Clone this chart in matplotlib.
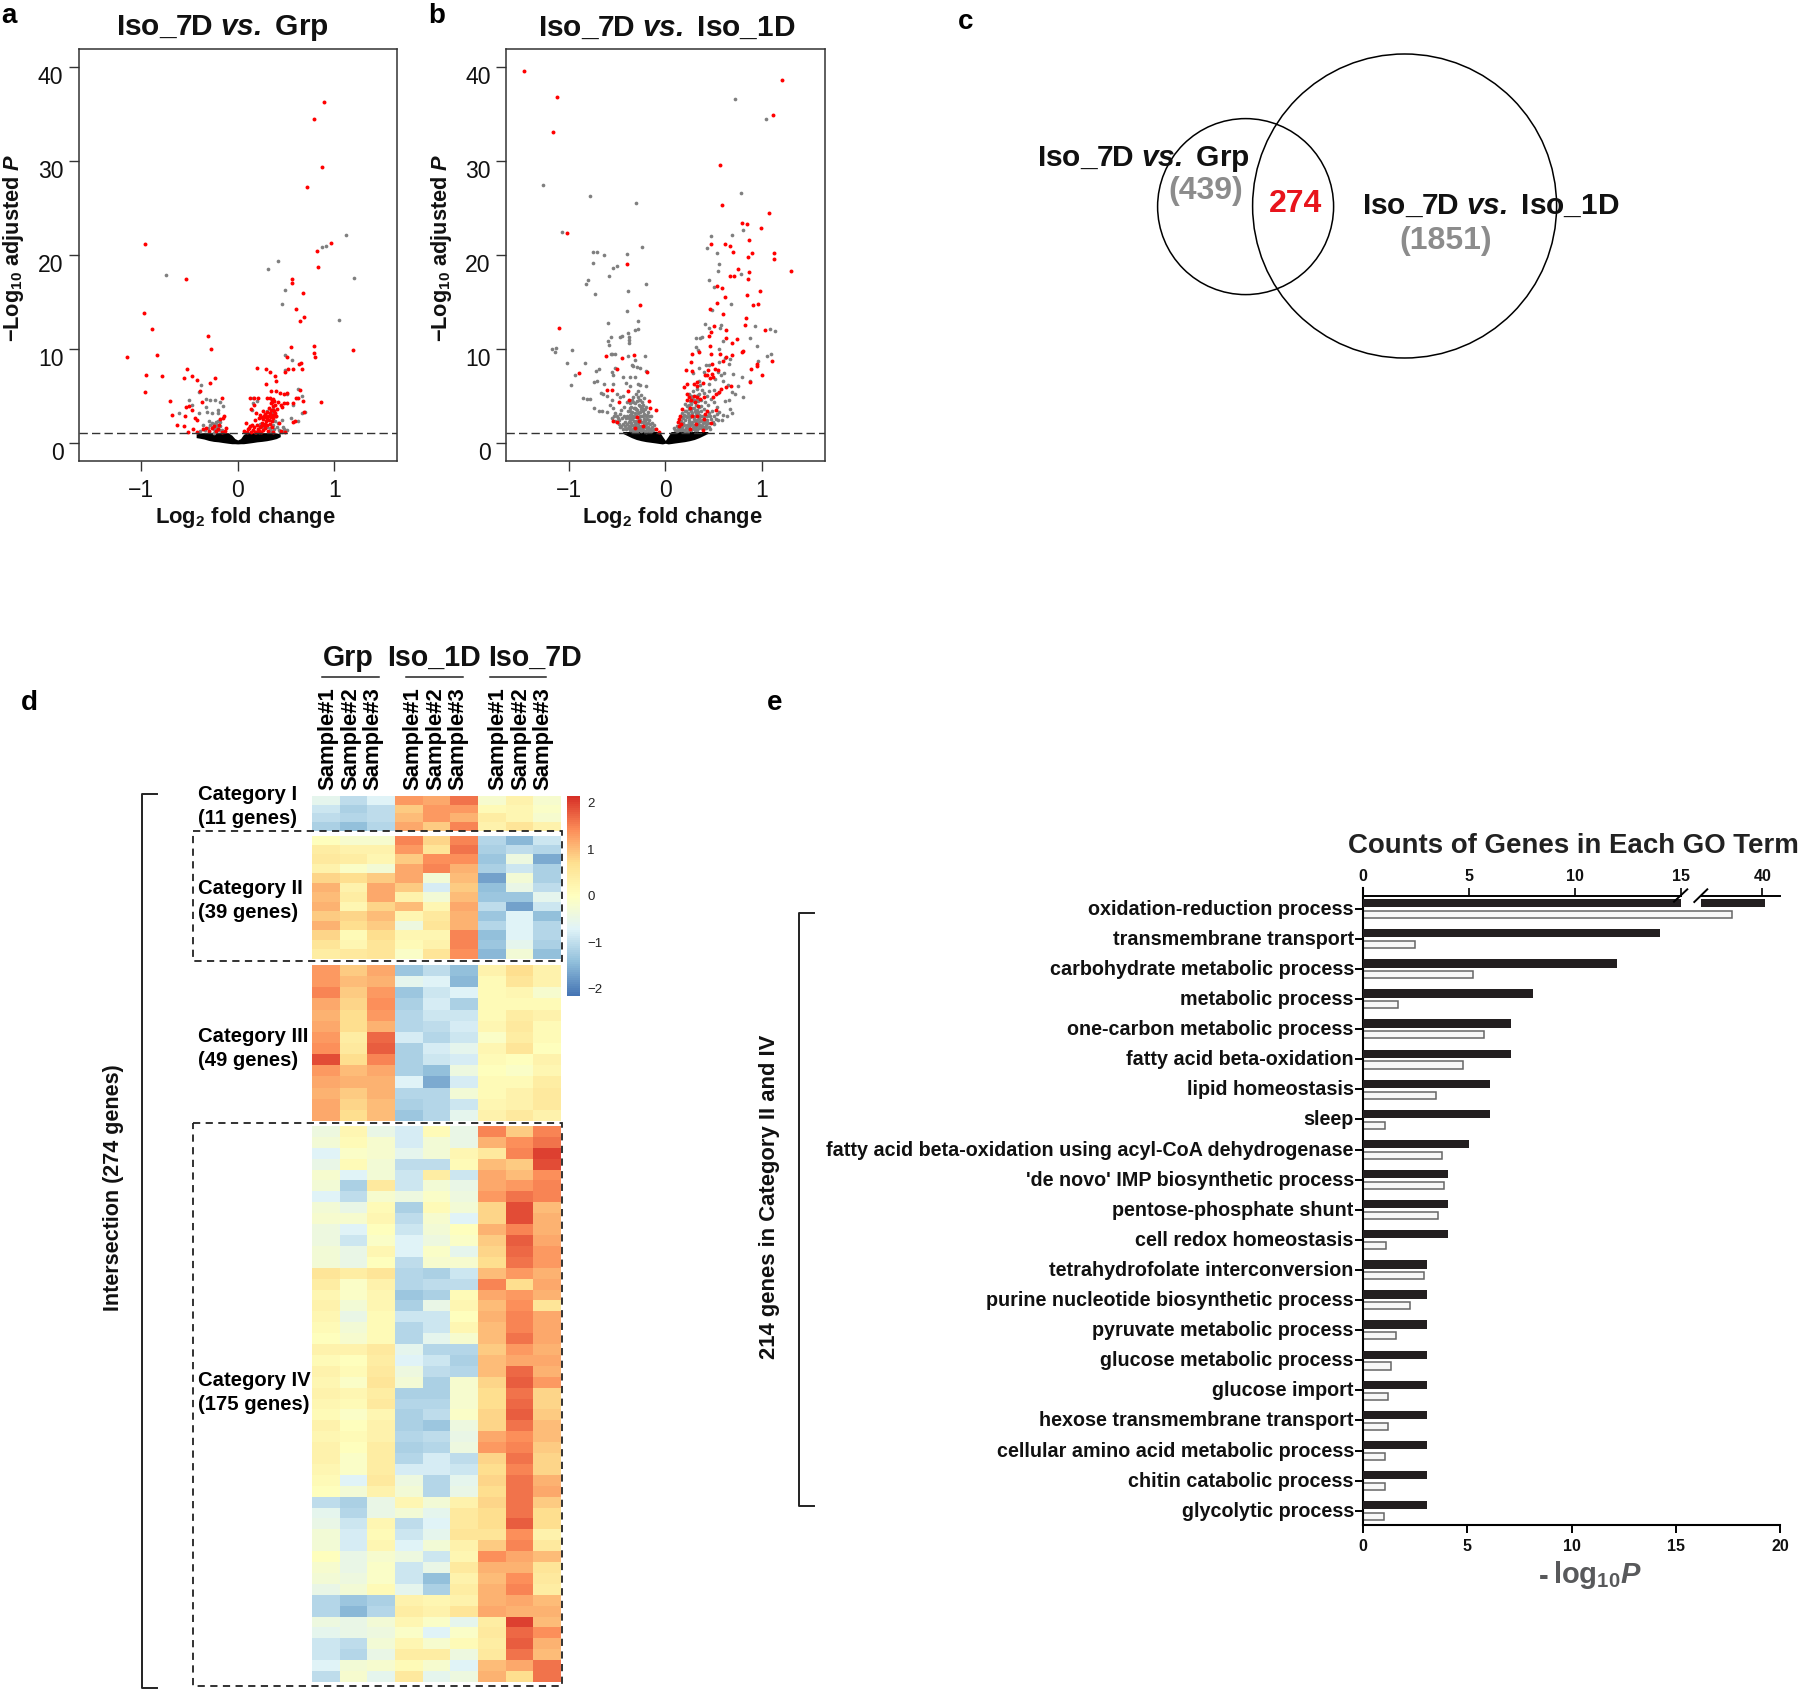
import numpy as np
import matplotlib
matplotlib.use('Agg')
import matplotlib.pyplot as plt
from matplotlib.colors import LinearSegmentedColormap
from matplotlib.patches import Circle, Rectangle
from matplotlib.transforms import ScaledTranslation

plt.rcParams['font.family'] = ['Liberation Sans', 'DejaVu Sans']
plt.rcParams['mathtext.fontset'] = 'custom'
plt.rcParams['mathtext.rm'] = 'Liberation Sans'
plt.rcParams['mathtext.bf'] = 'Liberation Sans:bold'
plt.rcParams['mathtext.it'] = 'Liberation Sans:italic'
plt.rcParams['mathtext.bfit'] = 'Liberation Sans:italic:bold'

W, H = 1800, 1689

# ---- volcano a ----
a_red = [(.893,36.3),(.79,34.4),(.872,29.3),(.72,27.2),(.962,21.3),(.824,20.4),(.828,18.7),(.566,17.4),(.566,17.0),
         (.676,15.9),(.607,14.2),(.686,13.4),(.641,13.0),(.786,10.3),(.555,10.2),(.79,9.6),(.8,9.1),(1.19,9.9),
         (.514,9.1),(.659,8.5),(.634,8.4),(.669,7.9),(.524,7.85),(.57,7.8),(.49,7.5),(.2,8.0),(.29,7.8),(.338,7.5),
         (.39,7.1),(.397,6.6),(.293,6.3),(.348,5.5),(.393,5.5),(.438,5.35),(.48,5.2),(.507,5.35),(.645,5.6),(.862,4.3),
         (.68,4.4),(.576,4.2),(.507,4.2),(.628,4.8),(.604,4.8),(.686,3.3),(.576,2.2),(.597,2.35),
         (-.959,21.1),(-.538,17.4),(-.972,13.8),(-.883,12.1),(-.31,11.4),(-.276,10.0),(-.831,9.3),(-1.148,9.1),
         (-.948,7.2),(-.786,7.1),(-.528,7.8),(-.559,6.9),(-.476,7.1),(-.417,6.7),(-.234,6.9),(-.286,6.4),(-.955,5.4),
         (-.39,5.5),(-.7,4.4),(-.372,4.3),(-.159,4.8),(-.534,3.85),(-.5,3.9),(-.469,3.5),(-.679,3.0),(-.548,2.8),
         (-.441,2.6),(-.424,2.4),(-.631,1.9),(-.559,1.75),(-.51,1.1),(-.465,1.45),(-.15,2.6),(-.18,2.5),(-.14,2.9),
         (-.2,1.5),(-.27,1.6),(-.3,1.3),(-.13,1.3),(-.36,1.5),(-.42,1.2),(-.24,1.8),
         (.13,4.8),(.17,4.8),(.21,4.8),(.17,4.0),(.14,3.6),(.19,3.2),(.3,4.8),(.33,4.8),(.35,4.6),(.37,4.7),(.38,4.4),
         (.34,4.2),(.36,3.9),(.39,4.0),(.42,4.3),(.45,4.0),(.48,4.2),(.36,3.5),(.38,3.4),(.33,3.2),(.3,3.3),(.41,3.6),
         (.27,2.9),(.31,2.9),(.34,2.7),(.36,3.0),(.26,2.5),(.29,2.3),(.32,2.4),(.25,2.1),(.22,2.6),(.18,2.4),(.2,1.9),
         (.15,1.9),(.09,2.1),(.12,1.6),(.16,1.4),(.21,1.5),(.24,1.8),(.28,1.6),(.31,1.3),(.35,1.7),(.07,1.3),(.1,1.2),
         (.14,1.2),(.19,1.1),(.24,1.2),(.37,1.1),(.45,1.3),(.49,1.2),(.23,3.0),(.28,2.0),(.4,2.8),(.43,2.1),(.46,3.8),
         (.11,1.45),(.13,1.8),(.17,1.7),(.18,1.2),(.22,1.3),(.23,1.65),(.26,1.35),(.27,1.9),(.3,1.85),(.3,2.6),(.33,2.05),
         (.34,3.5),(.35,2.3),(.37,2.6),(.39,3.2),(.28,3.1),(.24,2.7),(.26,3.4),(.32,3.7),(.35,4.3),(.29,2.75),(.33,2.9),
         (-.12,1.6),(-.16,1.2),(-.19,1.9),(-.22,1.25),(-.33,1.6)]
a_grey = [(-.745,17.8),(1.117,22.1),(.876,20.8),(.91,20.9),(.31,18.5),(.414,19.3),(1.207,17.5),(.49,16.3),(.462,14.8),
          (1.048,13.1),(.49,9.3),(.566,8.8),(.49,7.7),(-.38,6.1),(-.4,5.45),(-.507,4.5),(-.328,4.7),(-.286,4.5),
          (-.234,4.5),(-.183,4.3),(-.148,3.9),(-.476,4.0),(-.607,3.15),(-.4,3.15),(-.32,3.3),(-.27,3.15),(-.207,3.5),
          (-.2,3.15),(-.33,3.8),(-.295,2.3),(-.27,2.15),(-.224,2.25),(-.217,1.9),(-.183,2.25),(-.36,1.9),(-.39,1.3),
          (-.34,1.4),(-.165,1.4),(-.25,1.0),(-.23,1.3),(.162,4.2),(.152,3.5),(.197,4.4),(.3,3.4),(.35,3.15),(.4,2.8),
          (.455,2.4),(.472,1.7),(.507,1.4),(.3,1.7),(.23,2.0),(.162,4.8),(.514,5.2),(.627,5.7),(.662,5.0),(.697,3.3),
          (.662,3.2),(.555,2.6),(.62,2.35),(.576,4.0),(.366,3.55),(.42,2.1),(.48,1.5),(.44,1.2),(.34,1.3),
          (-.26,1.7),(-.21,1.6),(-.2,2.35),(-.25,1.45),(-.19,1.35),(-.29,1.9),(-.31,1.55),(-.24,2.05),(-.18,1.75),
          (.38,1.45),(.41,1.65),(.43,1.35),(.46,1.2),(.33,1.55),(.36,1.9),(.39,2.3),(.26,1.55),(.22,1.2)]
a_env_x = [-.43,-.40,-.35,-.30,-.25,-.20,-.15,-.10,-.06,-.03,0,.03,.06,.10,.15,.20,.25,.30,.35,.40,.44]
a_env_low = [.55,.5,.4,.25,.15,.1,.02,-.05,-.1,-.1,-.12,-.1,-.1,-.05,.02,.1,.15,.22,.32,.45,.65]
a_env_high = [.95,1.05,1.08,1.08,1.08,1.08,1.08,1.08,.8,.45,.3,.45,.9,1.08,1.08,1.08,1.08,1.08,1.08,1.05,.95]

# ---- volcano b ----
b_red = [(-1.466,39.6),(-1.117,36.8),(-1.166,33.1),(-1.02,22.3),(-1.103,12.2),(-.393,19.0),(-.259,14.7),(-.617,9.2),
         (-.445,9.05),(-.324,9.3),(-.89,7.4),(-.503,7.8),(-.193,7.5),(-.6,5.6),(-.548,5.6),(-.39,5.5),(-.372,4.5),
         (-.479,4.3),(-.166,4.4),(-.1,3.5),(-.159,3.7),(-.545,2.3),(-.497,2.2),(-.234,1.75),(-.314,1.6),(-.097,1.43),
         (-.062,1.17),(-.29,2.7),(-.27,2.3),
         (1.203,38.6),(1.114,34.9),(.562,29.6),(.586,25.3),(1.069,24.4),(.79,23.4),(.841,23.3),(.99,22.9),(.862,21.6),
         (.472,21.2),(.617,21.1),(.672,20.9),(.697,20.3),(.893,20.2),(.852,19.8),(1.124,20.2),(1.128,19.6),(1.3,18.3),
         (.755,18.5),(.866,18.2),(.859,17.4),(.666,17.7),(.707,17.7),(.531,16.7),(.586,16.5),(.979,16.1),(.841,15.75),
         (.621,15.5),(.534,14.9),(.962,14.8),(.907,14.65),(.466,14.25),(.6,13.7),(.834,13.3),(.503,12.4),(.828,12.5),
         (.631,12.05),(1.03,12.0),(.476,11.75),(.452,11.4),(.628,11.2),(.738,11.05),(.69,10.6),(.466,10.3),(.793,9.7),
         (.807,9.75),(.348,9.7),(.276,9.4),(.472,9.45),(.562,9.4),(.69,9.3),(.628,9.1),(.6,8.7),(.269,8.6),(.486,8.35),
         (1.107,8.75),(.948,8.4),(.945,8.2),(.886,7.9),(.997,7.2),(.21,7.77),(.272,7.65),(.445,7.7),(.514,7.9),(.541,7.7),
         (.486,7.35),(.428,7.2),(.497,7.0),(.462,6.85),(.41,7.2),(.876,6.5),(.676,6.0),(.628,5.9),(.324,6.5),(.393,6.4),
         (.324,6.0),(.22,6.25),(.58,5.7),(.56,5.4),(.497,4.85),(.52,5.2),(.3,6.3),(.19,5.9),
         (.22,5.2),(.24,4.9),(.22,4.6),(.3,5.0),(.33,4.9),(.27,4.6),(.31,4.3),(.36,4.7),(.4,4.9),(.34,3.9),(.26,3.7),
         (.17,3.6),(.15,2.9),(.14,2.5),(.13,2.2),(.16,2.0),(.14,1.8),(.28,2.8),(.33,2.9),(.4,2.5),(.41,3.1),(.52,3.5),
         (.47,2.1),(.32,2.0),(.26,1.5),(.39,1.4),(.43,3.4)]
b_grey = [(-1.27,27.4),(-.78,26.3),(-.3,25.5),(-1.07,22.4),(-.24,20.8),(-.75,20.3),(-.71,20.3),(-.63,20.0),(-.4,20.1),
          (-.75,19.1),(-.545,18.6),(-.5,18.8),(-.585,17.7),(-.8,17.3),(-.82,16.9),(-.2,16.9),(-.385,16.2),(-.73,15.8),
          (-.395,14.0),(-.28,13.0),(-.595,12.7),(-.28,12.1),(-.31,12.0),(-.39,11.7),(-.565,11.3),(-.47,11.3),(-.45,11.4),
          (-.375,11.3),(-.375,10.9),(-.38,10.6),(-.595,10.8),(-.58,10.4),(-1.17,10.0),(-1.13,10.1),(-1.14,9.7),(-.97,9.9),
          (-.565,9.5),(-.55,9.5),(-.52,9.4),(-.21,9.2),(-.39,9.2),(-.31,8.8),(-.345,8.3),(-.33,8.2),(-.29,8.1),(-.26,8.0),
          (-1.02,8.5),(-.83,8.5),(-.52,8.0),(-.55,7.5),(-.54,7.2),(-.72,7.6),(-.69,7.8),(-.2,7.6),(-.44,7.0),(-.36,7.0),
          (-.31,7.0),(-.93,7.2),(-.74,6.5),(-.71,6.6),(-.98,6.2),(-.63,6.3),(-.54,6.3),(-.41,6.4),(-.37,6.0),(-.26,6.1),
          (-.28,6.3),(-.2,6.0),(-.85,4.8),(-.81,4.7),(-.78,4.7),(-.74,3.7),(-.69,3.4),(-.65,3.4),(-.6,5.0),(-.64,5.2),
          (-.67,5.3),(-.5,5.2),(-.47,4.9),(-.44,5.0),(-.55,4.5),(-.57,4.0),(-.54,3.7),(-.6,3.3),(-.52,3.2),(-.47,3.1),
          (-.5,2.8),(-.55,2.6),(-.48,2.4),(-.43,3.8),(-.4,4.3),(-.37,3.7),(-.35,3.1),(-.33,4.9),(-.3,5.2),(-.28,5.5),
          (-.27,4.6),(-.25,5.1),(-.24,4.3),(-.22,4.8),(-.32,2.7),(-.3,3.6),(-.29,2.2),(-.26,3.9),(-.25,2.9),(-.23,3.4),
          (-.22,2.5),(-.2,3.8),(-.2,2.8),(-.18,3.3),(-.17,2.4),(-.15,2.8),(-.14,2.1),(-.12,1.9),(-.11,1.5),(-.35,2.1),
          (-.4,2.9),(-.42,2.2),(-.38,1.8),(-.33,1.5),(-.28,1.4),(-.25,1.8),(-.21,1.3),(-.18,1.7),(-.15,1.3),(-.44,1.5),
          (-.47,1.7),(-.36,3.4),(-.31,4.2),(-.28,3.2),(-.34,2.5),(-.3,1.8),(-.26,2.4),(-.22,1.9),
          (.72,36.6),(1.04,34.4),(.78,26.6),(.69,22.1),(.47,22.0),(.8,22.6),(.43,20.7),(.53,20.2),(.56,19.0),(.54,18.3),
          (.78,18.0),(.45,17.3),(.5,16.6),(.68,14.8),(.48,14.1),(.41,12.6),(.45,12.2),(.58,12.5),(.57,12.2),(.93,12.4),
          (1.08,12.1),(1.13,11.9),(.88,11.2),(.32,11.2),(.36,11.2),(.38,11.3),(.6,10.8),(.95,10.3),(.32,10.2),(.56,10.0),
          (.34,9.9),(1.09,9.4),(1.05,9.2),(.62,9.0),(.67,8.9),(.96,8.7),(.56,8.6),(.66,8.4),(.45,8.3),(.42,8.3),(.35,8.0),
          (.29,7.4),(.4,7.5),(.55,7.5),(.58,7.2),(.61,7.4),(.7,7.3),(.79,7.0),(.88,6.6),(.51,6.8),(.6,6.6),(.45,6.3),
          (.35,6.6),(.65,6.2),(.75,6.0),(.69,5.4),(.72,5.2),(.8,4.9),(.66,4.6),(.36,6.1),(.33,5.7),(.38,5.6),(.35,5.2),
          (.4,5.3),(.45,5.5),(.5,5.6),(.55,5.3),(.25,5.2),(.28,4.8),(.2,4.1),(.22,3.9),(.17,3.2),(.2,3.4),(.24,4.0),
          (.28,3.7),(.31,3.4),(.34,4.4),(.37,3.9),(.4,3.6),(.44,4.0),(.47,4.7),(.5,4.3),(.53,3.8),(.56,3.3),(.6,3.0),
          (.67,3.6),(.69,3.2),(.62,4.4),(.64,2.8),(.59,2.4),(.55,2.4),(.5,2.0),(.46,2.9),(.43,2.4),(.39,2.9),(.36,2.3),
          (.33,3.5),(.3,2.5),(.27,3.0),(.24,2.4),(.21,2.9),(.18,2.6),(.12,1.8),(.1,1.4),(.09,1.6),(.15,1.5),(.19,1.4),
          (.23,1.9),(.27,2.0),(.3,1.5),(.34,1.9),(.38,1.8),(.42,1.6),(.46,1.5),(.35,3.0),(.32,4.0),(.26,4.4),(.29,5.5)]
# thick lower part of both arms of the b cloud
b_grey_low = [(-.13,1.4),(-.14,1.7),(-.16,1.5),(-.16,2.0),(-.17,1.3),(-.18,2.1),(-.19,1.5),(-.19,2.5),(-.2,1.2),(-.2,2.0),
              (-.21,1.7),(-.21,2.3),(-.22,3.1),(-.23,1.4),(-.23,2.2),(-.23,2.8),(-.24,1.6),(-.24,3.7),(-.25,1.25),(-.25,2.2),
              (-.26,1.5),(-.26,2.9),(-.26,3.3),(-.27,1.8),(-.27,2.5),(-.27,4.0),(-.28,1.6),(-.28,2.1),(-.28,2.7),(-.29,3.5),
              (-.29,4.4),(-.29,1.3),(-.3,2.3),(-.3,2.9),(-.31,1.3),(-.31,2.0),(-.31,3.2),(-.32,1.7),(-.32,2.3),(-.32,3.7),
              (-.33,1.3),(-.33,2.9),(-.33,4.3),(-.34,1.9),(-.34,3.3),(-.35,1.4),(-.35,2.7),(-.35,3.8),(-.36,1.7),(-.36,2.4),
              (-.37,1.4),(-.37,3.0),(-.38,2.2),(-.38,2.6),(-.39,1.6),(-.39,3.4),(-.4,2.0),(-.41,1.5),(-.41,2.6),(-.42,1.8),
              (-.43,2.9),(-.44,2.0),(-.45,2.6),(-.46,1.8),(-.46,3.5),(-.48,2.0),(-.49,2.6),(-.5,2.2),(-.52,2.3),(-.53,2.8),
              (-.28,4.9),(-.26,4.5),(-.23,4.0),(-.21,3.6),(-.19,3.0),(-.17,2.9),(-.25,3.6),(-.31,3.7),(-.34,4.6),(-.37,4.2),
              (.12,1.3),(.13,1.6),(.14,1.4),(.15,1.9),(.16,1.35),(.16,2.3),(.17,1.7),(.17,2.7),(.18,1.4),(.18,2.1),(.19,1.9),
              (.19,3.0),(.2,1.3),(.2,2.4),(.21,1.6),(.21,3.4),(.22,1.9),(.22,2.7),(.23,1.3),(.23,3.2),(.24,1.7),(.24,2.9),
              (.25,1.45),(.25,2.2),(.25,3.6),(.26,1.9),(.26,2.7),(.27,1.4),(.27,3.4),(.27,4.1),(.28,2.2),(.28,3.2),(.29,1.7),
              (.29,2.9),(.29,4.4),(.3,1.9),(.3,3.7),(.31,1.4),(.31,2.3),(.31,2.9),(.32,1.7),(.32,3.2),(.33,1.4),(.33,2.4),
              (.33,4.5),(.34,2.1),(.34,3.3),(.35,1.6),(.35,2.6),(.35,3.8),(.36,1.9),(.37,2.8),(.37,3.4),(.38,1.6),(.38,2.4),
              (.39,2.1),(.4,1.7),(.4,2.9),(.41,2.2),(.42,1.9),(.43,2.8),(.44,2.1),(.45,1.7),(.45,3.2),(.47,2.5),(.48,3.4),
              (.49,2.2),(.5,2.8),(.52,2.5),(.53,3.1),(.34,5.1),(.37,4.6),(.32,5.0),(.3,4.6),(.27,5.0),(.41,4.3),(.43,5.0)]
b_env_x = [-.44,-.40,-.35,-.30,-.25,-.20,-.15,-.10,-.06,-.03,0,.03,.06,.10,.15,.20,.25,.30,.35,.40,.44]
b_env_low = [1.0,.8,.55,.35,.22,.12,.05,-.02,-.08,-.12,-.05,-.12,-.08,-.02,.05,.12,.22,.35,.55,.8,1.0]
b_env_high = [1.2,1.2,1.2,1.2,1.2,1.2,1.2,1.2,1.2,.7,.25,.7,1.2,1.2,1.2,1.2,1.2,1.2,1.2,1.2,1.2]

volcano_xticks = [-1, 0, 1]
volcano_yticks = [0, 10, 20, 30, 40]

# ---- heatmap ----
heat_groups = ['Grp', 'Iso_1D', 'Iso_7D']
sample_names = ['Sample#1', 'Sample#2', 'Sample#3']
cat1 = [[-.6,-1.0,-.7,1.3,1.2,1.6,-.2,.3,-.2],
        [-.9,-1.2,-1.0,.9,1.3,1.3,.1,.2,-.1],
        [-1.0,-1.1,-1.0,1.0,1.3,1.1,.4,.2,-.2],
        [-1.2,-1.4,-1.1,1.2,.9,1.5,.3,.6,.3]]
cat2 = [[.0,-.2,-.2,1.5,.8,1.5,-1.1,-1.5,-.9],
        [.4,.3,.3,1.3,.6,1.6,-1.2,-1.0,-1.1],
        [.5,.4,.2,.9,1.4,1.4,-1.3,-.4,-1.6],
        [.3,-.1,-.3,1.2,1.5,1.1,-1.2,-.9,-1.2],
        [.8,.7,.9,1.2,-.3,1.0,-1.7,-.3,-1.2],
        [1.1,.3,1.2,.9,-.8,.9,-1.4,-.5,-1.0],
        [1.0,.4,1.2,.3,-.3,1.0,-1.3,-1.3,-.6],
        [1.1,.2,.8,1.0,.2,1.2,-1.0,-1.7,-.9],
        [.9,.8,1.0,.2,.5,1.1,-1.3,-.7,-1.4],
        [1.1,.7,.9,-.4,.6,1.1,-1.1,-.7,-1.1],
        [.8,.1,.7,.2,.2,1.5,-1.4,-.7,-1.1],
        [.6,.2,.6,.1,.3,1.5,-1.3,-.6,-1.2],
        [.4,.5,.6,-.1,.6,1.4,-1.5,-.3,-1.4]]
cat3 = [[1.3,.9,1.2,-1.3,-1.0,-1.4,.3,.7,.3],
        [1.3,1.0,1.1,-.6,-.7,-1.5,.1,.6,.3],
        [1.5,.9,1.3,-1.3,-.9,-.7,.1,.2,-.2],
        [1.2,.8,1.4,-1.2,-.8,-1.2,.1,.1,.1],
        [1.1,.7,1.3,-1.1,-.9,-.9,.1,.4,.3],
        [1.2,.7,1.1,-1.1,-1.0,-.8,.2,.5,.1],
        [1.3,.4,1.7,-.8,-1.1,-.9,-.1,.4,.1],
        [1.4,.5,1.8,-1.2,-.8,-.6,.2,.6,.0],
        [1.9,.7,1.5,-1.2,-.9,-.8,.1,.0,.3],
        [1.3,1.0,1.2,-1.2,-1.4,-.4,.0,-.1,.2],
        [1.2,1.1,1.1,-.7,-1.6,-.8,.1,.1,.4],
        [1.1,.9,1.1,-1.1,-1.1,-.3,.1,.3,.5],
        [1.2,.8,1.0,-1.2,-1.1,-.9,.2,.3,.5],
        [1.2,.7,1.0,-1.3,-1.1,-.6,.3,.5,.3]]
cat4 = [[-.4,.2,-.5,-.8,.1,-.5,1.5,.9,1.5],
        [-.3,.1,-.2,-.8,-.3,-.5,1.1,1.4,1.6],
        [-.7,-.1,-.2,-.6,-.3,.2,.5,1.5,2.0],
        [-.5,.1,-.3,-1.0,-1.0,.1,1.0,.9,1.9],
        [-.2,-.7,-.3,-.9,.4,-.9,1.2,1.0,1.4],
        [-.3,-1.2,.5,-.9,-.3,-.5,1.2,1.3,1.5],
        [-.7,-1.0,-.2,-.4,-.1,-.4,1.3,1.6,1.5],
        [-.3,-.5,.1,-1.2,.1,-.3,.8,1.9,1.0],
        [-.2,-.2,.2,-1.0,-.2,-.7,.8,1.9,1.1],
        [-.4,-.7,.0,-.9,-.3,.0,1.1,1.5,1.1],
        [-.4,-.9,-.1,-.7,-.4,-.1,.9,1.8,1.2],
        [-.3,-.5,.2,-.7,-.1,-.6,.8,1.7,1.3],
        [-.3,-.5,.0,-1.0,-.2,-.2,.7,1.6,1.3],
        [.6,.4,.6,-1.1,-1.2,-.9,1.0,1.3,1.1],
        [.4,-.1,.3,-1.1,-1.0,-1.0,1.5,.7,1.2],
        [.2,-.1,.2,-1.3,-1.2,.1,1.2,1.3,1.1],
        [.3,-.3,.2,-1.2,-.5,.2,1.0,1.4,.6],
        [.2,-.5,.1,-.9,-.9,.0,1.1,1.5,1.2],
        [.1,-.3,.1,-1.1,-.9,.2,1.0,1.5,1.2],
        [.0,-.2,.1,-1.1,-.6,-.2,1.0,1.6,1.2],
        [.3,.3,.5,-.6,-1.1,-1.1,.9,1.3,1.1],
        [.1,.0,.4,-.7,-.9,-1.2,1.0,1.2,1.2],
        [.3,.1,.5,-.4,-1.0,-1.1,1.0,1.7,1.1],
        [.2,-.1,.6,-.3,-1.2,-.2,.8,1.8,1.3],
        [.3,.2,.4,-1.2,-1.2,-.2,.7,1.6,.8],
        [.2,.1,.5,-1.1,-1.1,-.2,.7,1.7,.8],
        [.1,-.1,.2,-1.2,-1.0,-.1,.8,1.8,.9],
        [.3,.0,.3,-1.2,-1.3,-.4,.8,1.6,1.0],
        [.2,.1,.3,-1.1,-1.0,-.5,1.2,1.4,1.0],
        [.3,.0,.4,-1.2,-1.1,-.4,1.3,1.5,.9],
        [.3,-.1,.4,-1.1,-.8,-1.0,.8,1.6,.8],
        [.2,-.1,.4,-.8,-.8,-.9,.7,1.5,.8],
        [.1,-.7,.5,-.4,-1.1,-.6,.8,1.6,1.1],
        [.0,-.3,.3,-.3,-1.1,-.5,.7,1.6,1.2],
        [-1.0,-1.2,-.5,.2,-.3,.3,.8,1.6,.9],
        [-.6,-1.1,-.5,-.3,-.6,.5,.7,1.6,.7],
        [-.5,-.9,.2,-1.0,-.7,.5,.7,1.8,.7],
        [-.3,-.8,.1,-.9,-.6,.6,.6,1.4,.3],
        [-.3,-.8,.2,-.7,-.3,.3,.9,1.5,.5],
        [.0,-.5,-.2,-.4,-.9,.2,1.4,1.2,1.0],
        [-.2,-.5,-.1,-.9,-.5,.5,1.1,1.1,.6],
        [-.3,-.4,-.1,-.9,-1.4,.3,1.0,1.4,.5],
        [-.5,-.3,.1,-.6,-1.2,.4,1.1,1.5,.4],
        [-1.1,-1.3,-1.2,.3,.2,.3,1.1,1.2,1.0],
        [-1.1,-1.5,-1.1,.4,.3,.6,1.2,1.1,1.1],
        [-.4,-.5,-.3,.2,-.1,-.6,.4,2.0,1.0],
        [-.6,-.5,-.4,-.1,-.7,-.1,.5,1.7,1.4],
        [-.9,-1.0,-.3,.2,-.2,.1,.4,1.8,1.1],
        [-.9,-1.1,-.5,.4,.4,-.4,.5,1.6,1.0],
        [-.7,-.3,-.2,.1,-.2,-.7,1.0,1.2,1.6],
        [-1.0,-.2,-.6,.5,-.6,-.4,1.1,.7,1.6]]

# ---- GO bars ----
go_terms = ['oxidation-reduction process', 'transmembrane transport', 'carbohydrate metabolic process',
            'metabolic process', 'one-carbon metabolic process', 'fatty acid beta-oxidation', 'lipid homeostasis',
            'sleep', 'fatty acid beta-oxidation using acyl-CoA dehydrogenase', "'de novo' IMP biosynthetic process",
            'pentose-phosphate shunt', 'cell redox homeostasis', 'tetrahydrofolate interconversion',
            'purine nucleotide biosynthetic process', 'pyruvate metabolic process', 'glucose metabolic process',
            'glucose import', 'hexose transmembrane transport', 'cellular amino acid metabolic process',
            'chitin catabolic process', 'glycolytic process']
go_counts = [41, 14, 12, 8, 7, 7, 6, 6, 5, 4, 4, 4, 3, 3, 3, 3, 3, 3, 3, 3, 3]
go_logp = [17.7, 2.48, 5.27, 1.65, 5.81, 4.79, 3.51, 1.02, 3.78, 3.86, 3.6, 1.07, 2.9, 2.23, 1.57, 1.35, 1.2, 1.2,
           1.03, 1.03, .98]


def axes_px(left, top, right, bottom):
    return fig.add_axes([left / W, 1 - bottom / H, (right - left) / W, (bottom - top) / H])


def ftext(x, y, s, **kw):
    kw.setdefault('ha', 'center')
    kw.setdefault('va', 'center')
    kw.setdefault('fontweight', 'bold')
    kw.setdefault('color', '#111111')
    return fig.text(x / W, 1 - y / H, s, **kw)


def volcano(left, right, zero_x, red, grey, env_x, env_low, env_high):
    ax = axes_px(left, 48.6, right, 461.4)
    ax.set_xlim((left - zero_x) / 96.67, (right - zero_x) / 96.67)
    ax.set_ylim(-1.98, 41.94)
    g = np.array(grey)
    r = np.array(red)
    ax.fill_between(env_x, env_low, env_high, color='black', lw=0, zorder=2)
    ax.scatter(g[:, 0], g[:, 1], s=7, color='#7f7f7f', lw=0, zorder=3)
    ax.scatter(r[:, 0], r[:, 1], s=8, color='#ff0000', lw=0, zorder=4)
    ax.axhline(1, color='#333333', lw=1, dashes=(6, 3), zorder=5)
    ax.set_xticks(volcano_xticks)
    ax.set_xticklabels(['\u2212' + str(-t) if t < 0 else str(t) for t in volcano_xticks])
    ax.set_yticks(volcano_yticks)
    ax.tick_params(length=7, width=1, labelsize=16.6, color='#333333', labelcolor='#111111')
    ax.tick_params(axis='x', pad=6)
    ax.tick_params(axis='y', pad=4)
    shift = ScaledTranslation(0, -8.3 / 100, fig.dpi_scale_trans)
    for lab in ax.get_yticklabels():
        lab.set_transform(lab.get_transform() + shift)
    for s in ax.spines.values():
        s.set_linewidth(1.1)
        s.set_color('#333333')
    return ax


fig = plt.figure(figsize=(W / 100, H / 100), dpi=100, facecolor='white')

# panel letters
ftext(9, 16, 'a', fontsize=20, color='black')
ftext(437, 16, 'b', fontsize=20, color='black')
ftext(966, 22, 'c', fontsize=20, color='black')
ftext(29, 703, 'd', fontsize=20, color='black')
ftext(775, 703, 'e', fontsize=20, color='black')

# a and b
volcano(78.7, 397, 237.7, a_red, a_grey, a_env_x, a_env_low, a_env_high)
volcano(506, 825, 665.3, b_red, b_grey + b_grey_low, b_env_x, b_env_low, b_env_high)
ftext(222.5, 28, r'$\mathbf{Iso\_7D}\ \mathbfit{vs.}\ \mathbf{Grp}$', fontsize=21.5)
ftext(667, 28, r'$\mathbf{Iso\_7D}\ \mathbfit{vs.}\ \mathbf{Iso\_1D}$', fontsize=21.5)
for cx in (245, 672.7):
    ftext(cx, 517, r'$\mathbf{Log}_{\mathbf{2}}\ \mathbf{fold\ change}$', fontsize=15.8)
for cx in (14, 441):
    ftext(cx, 248, r'$\mathbf{-Log}_{\mathbf{10}}\ \mathbf{adjusted}\ \mathbfit{P}$', fontsize=15.7, rotation=90)

# overlay in figure pixels for brackets, boxes and the venn circles
over = fig.add_axes([0, 0, 1, 1], zorder=10)
over.set_xlim(0, W)
over.set_ylim(H, 0)
over.axis('off')

# c
over.add_patch(Circle((1245.6, 206.6), 88, fill=False, ec='black', lw=1.1))
over.add_patch(Circle((1404.6, 206), 152, fill=False, ec='black', lw=1.1))
ftext(1143, 159, r'$\mathbf{Iso\_7D}\ \mathbfit{vs.}\ \mathbf{Grp}$', fontsize=21.5, zorder=12)
ftext(1206, 191, '(439)', fontsize=23, color='#8c8c8c', zorder=12)
ftext(1295, 203.5, '274', fontsize=23, color='#e8141c', zorder=12)
ftext(1491, 205.5, r'$\mathbf{Iso\_7D}\ \mathbfit{vs.}\ \mathbf{Iso\_1D}$', fontsize=21.5, zorder=12)
ftext(1446, 241.5, '(1851)', fontsize=23, color='#8c8c8c', zorder=12)

# d heatmap
heat_cmap = LinearSegmentedColormap.from_list(
    'pheat', ['#4575B4', '#91BFDB', '#E0F3F8', '#FFFFBF', '#FEE090', '#FC8D59', '#D73027'], N=100)
heat_tops = [795.7, 835.7, 965, 1126.2]
heat_bots = [830.7, 959.3, 1121, 1681.7]
mesh = None
for cat, top, bot in zip([cat1, cat2, cat3, cat4], heat_tops, heat_bots):
    ax = axes_px(312.1, top, 560.4, bot)
    mesh = ax.imshow(cat, cmap=heat_cmap, vmin=-2.15, vmax=2.15, aspect='auto', interpolation='nearest')
    ax.axis('off')

cax = axes_px(566.9, 795.7, 580.4, 995.7)
cbar = fig.colorbar(mesh, cax=cax)
cbar.set_ticks([-2, -1, 0, 1, 2])
cbar.set_ticklabels(['\u22122', '\u22121', '0', '1', '2'])
cbar.ax.tick_params(length=0, labelsize=9.5, pad=5, labelcolor='#222222')
cbar.outline.set_visible(False)

for name, cx in zip(heat_groups, [348.3, 433.7, 534.9]):
    ftext(cx, 658, name, fontsize=20.6)
for x0, x1 in [(322.1, 378.6), (405.8, 462.6), (489.5, 546.3)]:
    over.plot([x0, x1], [677, 677], color='#222222', lw=1.1)
sample_x = [327.6, 350.7, 373, 413, 435.4, 457.8, 498, 520.4, 542.8]
for i, cx in enumerate(sample_x):
    ftext(cx, 790, sample_names[i % 3], fontsize=15.8, rotation=90, va='bottom', color='black')

cat_labels = [('Category I', '(11 genes)', 794, 818), ('Category II', '(39 genes)', 888, 912),
              ('Category III', '(49 genes)', 1036.5, 1060.5), ('Category IV', '(175 genes)', 1380.5, 1404.5)]
for l1, l2, y1, y2 in cat_labels:
    ftext(198.5, y1, l1, fontsize=14.6, ha='left', color='black')
    ftext(198.5, y2, l2, fontsize=14.6, ha='left', color='black')

for y0, y1 in [(830.7, 960.7), (1123, 1686)]:
    over.add_patch(Rectangle((192.6, y0), 369.2, y1 - y0, fill=False, ec='#222222', lw=1.3, ls=(0, (4, 3))))
over.plot([157, 142.3, 142.3, 157], [794.3, 794.3, 1687.6, 1687.6], color='#222222', lw=1.4)
ftext(113, 1188, 'Intersection (274 genes)', fontsize=15.5, rotation=90)

# e bars
row_y = np.arange(len(go_terms))
ax_p = axes_px(1363.3, 888, 1780, 1525.3)
ax_p.set_xlim(0, 20)
ax_p.set_ylim(20.485, -.688)
ax_p.barh(row_y + .193, go_logp, height=.235, color='#f7f7f7', edgecolor='#666666', lw=1.1)
ax_p.set_yticks(row_y)
ax_p.set_yticklabels(go_terms)
ax_p.set_xticks([0, 5, 10, 15, 20])
ax_p.tick_params(axis='y', length=5.8, width=1.4, labelsize=14.2, pad=1)
ax_p.tick_params(axis='x', length=5.8, width=1.4, labelsize=11.5, pad=4)
up = ScaledTranslation(0, 1.5 / 100, fig.dpi_scale_trans)
for lab in ax_p.get_yticklabels():
    lab.set_transform(lab.get_transform() + up)
for lab in ax_p.get_yticklabels() + ax_p.get_xticklabels():
    lab.set_fontweight('bold')
    lab.set_color('#111111')
ax_p.spines['top'].set_visible(False)
ax_p.spines['right'].set_visible(False)
ax_p.spines['left'].set_linewidth(1.5)
ax_p.spines['bottom'].set_linewidth(1.5)

count_axes = [(axes_px(1363.3, 896, 1680.7, 1525.3), (0, 15), [0, 5, 10, 15]),
              (axes_px(1701, 896, 1780, 1525.3), (19.57, 45.9), [40])]
for ax_c, lim, ticks in count_axes:
    ax_c.patch.set_alpha(0)
    ax_c.barh(row_y - .183, go_counts, height=.275, color='#231f20', lw=0)
    ax_c.set_xlim(*lim)
    ax_c.set_ylim(20.485, -.422)
    ax_c.set_yticks([])
    ax_c.xaxis.tick_top()
    ax_c.set_xticks(ticks)
    ax_c.tick_params(axis='x', length=5.8, width=1.2, labelsize=11.5, pad=3)
    for lab in ax_c.get_xticklabels():
        lab.set_fontweight('bold')
        lab.set_color('#111111')
    for side in ('left', 'right', 'bottom'):
        ax_c.spines[side].set_visible(False)
    ax_c.spines['top'].set_linewidth(1.4)

over.plot([1674, 1687.3], [901.7, 889.3], color='black', lw=1.4)
over.plot([1694.3, 1707.3], [902, 889.3], color='black', lw=1.4)

ftext(1799, 846, 'Counts of Genes in Each GO Term', fontsize=19.9, color='#222222', ha='right')
ftext(1544, 1577, '-', fontsize=21, color='#58595b')
ftext(1597, 1575, r'$\mathbf{log}_{\mathbf{10}}\mathbfit{P}$', fontsize=21, color='#58595b')
over.plot([814, 799, 799, 814], [913, 913, 1506, 1506], color='#222222', lw=1.4)
ftext(769, 1197, '214 genes in Category II and IV', fontsize=15.8, rotation=90)

fig.savefig('out.png', dpi=100)
